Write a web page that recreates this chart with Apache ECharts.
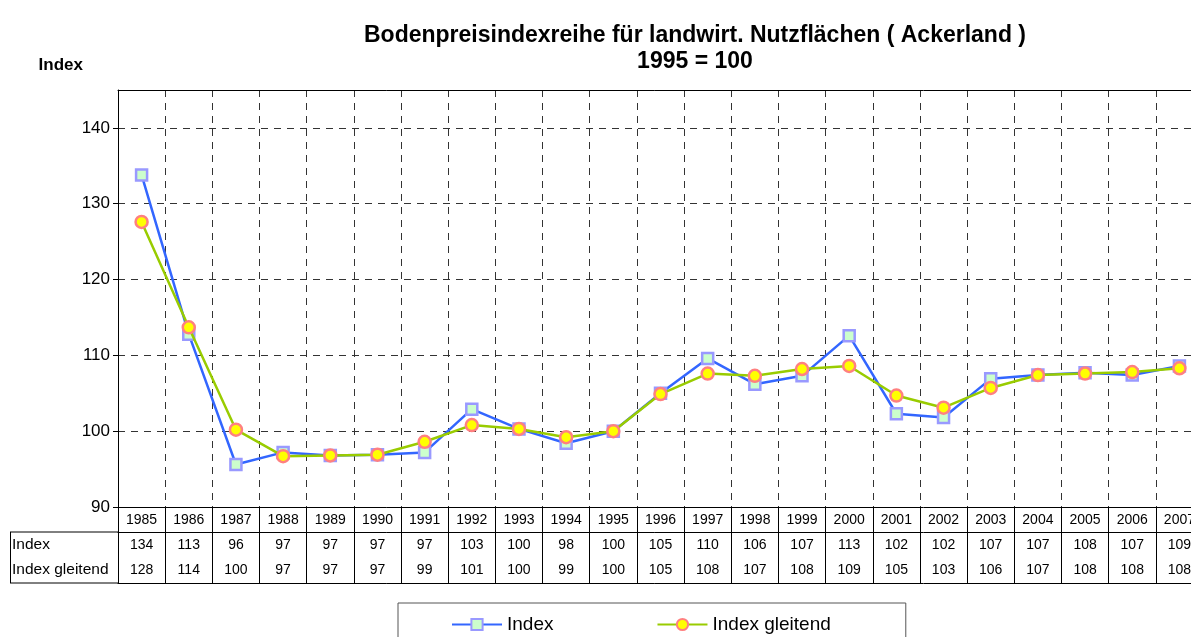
<!DOCTYPE html>
<html>
<head>
<meta charset="utf-8">
<script src="https://cdn.jsdelivr.net/npm/echarts@6/dist/echarts.min.js"></script>
<style>html,body{margin:0;padding:0;background:#fff;}#c{width:1191px;height:637px;}</style>
</head>
<body>
<div id="c"></div>
<script>
const years = ['1985','1986','1987','1988','1989','1990','1991','1992','1993','1994','1995','1996','1997','1998','1999','2000','2001','2002','2003','2004','2005','2006','2007'];
const indexValues = [133.8, 112.8, 95.6, 97.2, 96.8, 96.9, 97.2, 102.9, 100.3, 98.4, 100, 105.0, 109.6, 106.2, 107.3, 112.6, 102.3, 101.8, 106.9, 107.4, 107.7, 107.4, 108.6];
const gleitendValues = [127.6, 113.7, 100.2, 96.7, 96.8, 96.9, 98.6, 100.8, 100.3, 99.2, 100, 104.9, 107.6, 107.3, 108.2, 108.6, 104.7, 103.1, 105.7, 107.4, 107.6, 107.8, 108.3];
const indexTable = ['134','113','96','97','97','97','97','103','100','98','100','105','110','106','107','113','102','102','107','107','108','107','109'];
const gleitendTable = ['128','114','100','97','97','97','99','101','100','99','100','105','108','107','108','109','105','103','106','107','108','108','108'];
const yTicks = [90, 100, 110, 120, 130, 140];
const seriesNames = ['Index', 'Index gleitend'];
const titleText = 'Bodenpreisindexreihe für landwirt. Nutzflächen ( Ackerland )';
const subtitleText = '1995 = 100';
const yName = 'Index';

const FONT = 'Liberation Sans, Arial, Helvetica, sans-serif';
const chart = echarts.init(document.getElementById('c'));
const dashed = { color: '#333', width: 1, type: [7, 6] };
const tableAxisBase = {
  type: 'category', gridIndex: 0, position: 'bottom', boundaryGap: true,
  axisLine: { show: false }, axisTick: { show: false }, splitLine: { show: false },
  axisLabel: { margin: 6, fontSize: 14, color: '#000', fontFamily: FONT, interval: 0 }
};
chart.setOption({
  animation: false,
  backgroundColor: '#fff',
  textStyle: { fontFamily: FONT },
  title: {
    text: titleText + '\n' + subtitleText,
    left: 690, top: 18, textAlign: 'center',
    textStyle: { fontSize: 23, fontWeight: 'bold', color: '#000', lineHeight: 26, fontFamily: FONT }
  },
  grid: { left: 118, right: -12, top: 90, bottom: 130, containLabel: false, outerBoundsMode: 'none' },
  legend: {
    data: seriesNames,
    left: 398, top: 603,
    padding: [12, 75, 20, 53],
    itemGap: 103, itemWidth: 50, itemHeight: 14,
    borderColor: '#555', borderWidth: 1,
    textStyle: { fontSize: 19, color: '#000', fontFamily: FONT }
  },
  xAxis: [
    {
      type: 'category', data: years, position: 'bottom', boundaryGap: true,
      axisLine: { show: true, lineStyle: { color: '#000', width: 1 } },
      axisTick: { show: true, interval: 0, length: 25, lineStyle: { color: '#000' } },
      splitLine: { show: true, interval: 0, lineStyle: dashed },
      axisLabel: { margin: 6, fontSize: 14, color: '#000', fontFamily: FONT, interval: 0 }
    },
    Object.assign({}, tableAxisBase, {
      data: indexTable, offset: 25,
      axisLine: { show: true, lineStyle: { color: '#000', width: 1 } },
      axisTick: { show: true, interval: 0, length: 51, lineStyle: { color: '#000' } }
    }),
    Object.assign({}, tableAxisBase, { data: gleitendTable, offset: 50 }),
    Object.assign({}, tableAxisBase, {
      data: years, offset: 76,
      axisLine: { show: true, lineStyle: { color: '#000', width: 1 } },
      axisLabel: { show: false }
    }),
    Object.assign({}, tableAxisBase, {
      data: years, position: 'top',
      axisLine: { show: true, lineStyle: { color: '#000', width: 1 } },
      axisLabel: { show: false }
    })
  ],
  yAxis: {
    type: 'value', min: 90, max: 145, interval: 10,
    name: yName, nameLocation: 'end', nameGap: 16,
    nameTextStyle: { fontSize: 17, fontWeight: 'bold', color: '#000', align: 'right', padding: [0, 35, 0, 0], fontFamily: FONT },
    axisLine: { show: true, lineStyle: { color: '#000', width: 1 } },
    axisTick: { show: true, length: 5, customValues: yTicks, lineStyle: { color: '#000' } },
    splitLine: { show: true, lineStyle: dashed },
    axisLabel: {
      fontSize: 17, color: '#000', margin: 8, fontFamily: FONT, customValues: yTicks,
      formatter: v => (v % 10 === 0 ? String(v) : '')
    }
  },
  graphic: [
    { type: 'line', shape: { x1: 10, y1: 532, x2: 118, y2: 532 }, style: { stroke: '#000', lineWidth: 1 } },
    { type: 'line', shape: { x1: 10, y1: 583, x2: 118, y2: 583 }, style: { stroke: '#000', lineWidth: 1 } },
    { type: 'line', shape: { x1: 10.5, y1: 532, x2: 10.5, y2: 583 }, style: { stroke: '#000', lineWidth: 1 } },
    { type: 'text', left: 12, top: 537, style: { text: seriesNames[0], fontSize: 15.5, fill: '#000', fontFamily: FONT } },
    { type: 'text', left: 12, top: 562, style: { text: seriesNames[1], fontSize: 15.5, fill: '#000', fontFamily: FONT } }
  ],
  series: [
    {
      name: seriesNames[0], type: 'line', data: indexValues, xAxisIndex: 0,
      symbol: 'rect', symbolSize: 11, showAllSymbol: true,
      lineStyle: { color: '#3366ff', width: 2.5 },
      itemStyle: { color: '#ccffcc', borderColor: '#9999ff', borderWidth: 2.5 },
      z: 3
    },
    {
      name: seriesNames[1], type: 'line', data: gleitendValues, xAxisIndex: 0,
      symbol: 'circle', symbolSize: 12, showAllSymbol: true,
      lineStyle: { color: '#99cc00', width: 2.5 },
      itemStyle: { color: '#ffff00', borderColor: '#ff8080', borderWidth: 2.5 },
      z: 4
    }
  ]
});
</script>
</body>
</html>
